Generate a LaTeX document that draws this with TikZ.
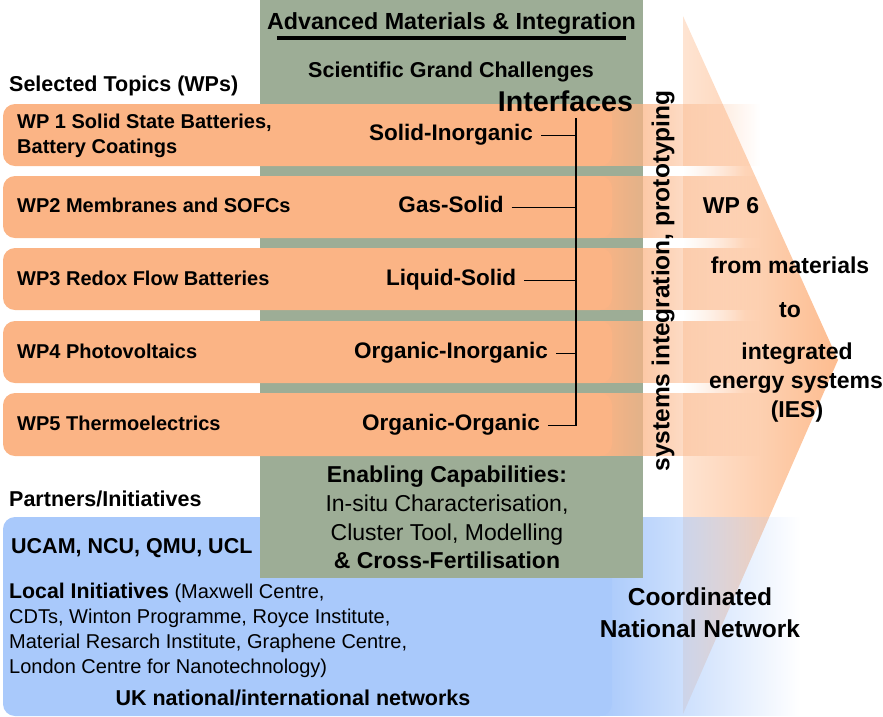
\documentclass[tikz,border=0pt]{standalone}
\usepackage{fontspec}
\setmainfont{Liberation Sans}
\usetikzlibrary{fadings}

\definecolor{bandorange}{RGB}{251,180,133}
\definecolor{greenbox}{RGB}{157,173,150}
\definecolor{partnerblue}{RGB}{169,201,251}
\definecolor{arrowlight}{RGB}{254,228,210}
\definecolor{arrowdark}{RGB}{253,188,143}
\tikzfading[name=fade right, left color=transparent!0, right color=transparent!100]

\begin{document}
\begin{tikzpicture}[x=1pt,y=-1pt,
  every node/.style={inner sep=0pt},
  title/.style={font=\bfseries\fontsize{23.3}{27}\selectfont,anchor=base},
  heading/.style={font=\bfseries\fontsize{21.5}{25}\selectfont,anchor=base},
  wplabel/.style={font=\bfseries\fontsize{20}{24}\selectfont,anchor=base west},
  iface/.style={font=\bfseries\fontsize{22.5}{27}\selectfont,anchor=base},
  big/.style={font=\bfseries\fontsize{23}{27}\selectfont,anchor=base},
  capline/.style={font=\fontsize{23}{27}\selectfont,anchor=base},
  plain/.style={font=\fontsize{20}{24}\selectfont,anchor=base west},
  network/.style={font=\bfseries\fontsize{24.5}{29}\selectfont,anchor=base},
  link/.style={line width=1.4pt}]
\useasboundingbox (0,0) rectangle (883,716);

% WP6 arrow
\shade[left color=arrowlight,right color=arrowdark] (683,16) -- (838,360) -- (683,714) -- cycle;

% partners box
\fill[partnerblue,rounded corners=12pt] (3,517) rectangle (612,716);
\fill[partnerblue,path fading=fade right,fit fading=true] (600,517) rectangle (800,716);

% grand challenges column
\fill[greenbox] (260,0) rectangle (643,578);

% WP bands
\fill[bandorange,rounded corners=12pt] (3,104) rectangle (612,166);
\fill[bandorange,path fading=fade right,fit fading=true] (600,104) rectangle (760,166);
\fill[bandorange,rounded corners=12pt] (3,176) rectangle (612,238);
\fill[bandorange,path fading=fade right,fit fading=true] (600,176) rectangle (760,238);
\fill[bandorange,rounded corners=12pt] (3,248) rectangle (612,310);
\fill[bandorange,path fading=fade right,fit fading=true] (600,248) rectangle (760,310);
\fill[bandorange,rounded corners=12pt] (3,321) rectangle (612,383);
\fill[bandorange,path fading=fade right,fit fading=true] (600,321) rectangle (760,383);
\fill[bandorange,rounded corners=12pt] (3,393) rectangle (612,456);
\fill[bandorange,path fading=fade right,fit fading=true] (600,393) rectangle (760,456);

% gaps between the bands
\fill[white,path fading=fade right,fit fading=true] (683,166) rectangle (745,176);
\fill[white,path fading=fade right,fit fading=true] (683,238) rectangle (745,248);
\fill[white,path fading=fade right,fit fading=true] (683,310) rectangle (745,321);
\fill[white,path fading=fade right,fit fading=true] (683,383) rectangle (745,393);

% column head
\node[title] (title) at (451.5,29) {Advanced Materials \& Integration};
\draw[line width=3.2pt] ([xshift=10pt,yshift=-9pt]title.base west) -- ([xshift=-10pt,yshift=-9pt]title.base east);
\node[heading] (challenges) at (451,77) {Scientific Grand Challenges};
\node[font=\bfseries\fontsize{28.6}{32}\selectfont,anchor=base] (interfaces) at (565.5,111) {Interfaces};

% topics
\node[heading,anchor=base west] (topics) at (9,91) {Selected Topics (WPs)};
\node[wplabel] (wponea) at (17,128) {WP 1 Solid State Batteries,};
\node[wplabel] (wponeb) at (17,153) {Battery Coatings};
\node[wplabel] (wptwo) at (17,212) {WP2 Membranes and SOFCs};
\node[wplabel] (wpthree) at (17,285) {WP3 Redox Flow Batteries};
\node[wplabel] (wpfour) at (17,358) {WP4 Photovoltaics};
\node[wplabel] (wpfive) at (17,430) {WP5 Thermoelectrics};

% interfaces
\node[iface] (solinorg) at (451,140) {Solid-Inorganic};
\node[iface] (gassol) at (451,212) {Gas-Solid};
\node[iface] (liqsol) at (451,285) {Liquid-Solid};
\node[iface] (orginorg) at (451,358) {Organic-Inorganic};
\node[iface] (orgorg) at (451,430) {Organic-Organic};
\coordinate (trunktop) at (576,118);
\coordinate (lsolinorg) at ([xshift=8pt,yshift=4.5pt]solinorg.base east);
\coordinate (lgassol) at ([xshift=8pt,yshift=4.5pt]gassol.base east);
\coordinate (lliqsol) at ([xshift=8pt,yshift=4.5pt]liqsol.base east);
\coordinate (lorginorg) at ([xshift=8pt,yshift=4.5pt]orginorg.base east);
\coordinate (lorgorg) at ([xshift=8pt,yshift=4.5pt]orgorg.base east);
\draw[link] (trunktop) -- (lorgorg -| trunktop);
\draw[link] (lsolinorg) -- (lsolinorg -| trunktop);
\draw[link] (lgassol) -- (lgassol -| trunktop);
\draw[link] (lliqsol) -- (lliqsol -| trunktop);
\draw[link] (lorginorg) -- (lorginorg -| trunktop);
\draw[link] (lorgorg) -- (lorgorg -| trunktop);

% integration
\node[font=\bfseries\fontsize{24.5}{28}\selectfont,rotate=90] (sysint) at (663,281) {systems integration, prototyping};
\node[big] (wpsix) at (731,213) {WP 6};
\node[big] (frommat) at (790,273) {from materials};
\node[big] (to) at (790,317) {to};
\node[big] (integ) at (797,359) {integrated};
\node[big] (energy) at (796,388) {energy systems};
\node[big] (ies) at (797,417) {(IES)};

% enabling capabilities
\node[big] (enabling) at (447,482) {Enabling Capabilities:};
\node[capline] (insitu) at (447,511) {In-situ Characterisation,};
\node[capline] (cluster) at (447,540) {Cluster Tool, Modelling};
\node[big] (crossfert) at (447,568) {\& Cross-Fertilisation};

% partners
\node[heading,anchor=base west] (partners) at (9,506) {Partners/Initiatives};
\node[heading,anchor=base west] (unis) at (11,553) {UCAM, NCU, QMU, UCL};
\node[plain] (locala) at (9,598) {{\bfseries\fontsize{21.3}{24}\selectfont Local Initiatives} (Maxwell Centre,};
\node[plain] (localb) at (9,623) {CDTs, Winton Programme, Royce Institute,};
\node[plain] (localc) at (9,648) {Material Resarch Institute, Graphene Centre,};
\node[plain] (locald) at (9,673) {London Centre for Nanotechnology)};
\node[heading] (uknet) at (293,705) {UK national/international networks};
\node[network] (coord) at (700,605) {Coordinated};
\node[network] (natnet) at (700,637) {National Network};
\end{tikzpicture}
\end{document}
